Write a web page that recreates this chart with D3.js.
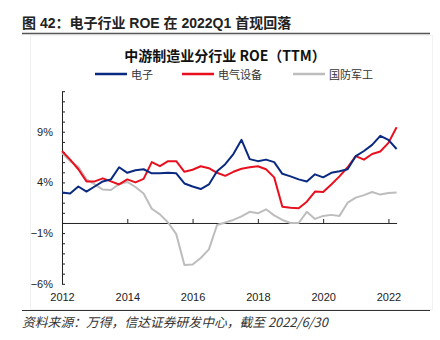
<!DOCTYPE html>
<html>
<head>
<meta charset="utf-8">
<script src="https://cdn.jsdelivr.net/npm/d3@7"></script>
<style>
    body { margin: 0; background: #fff; }
    svg { display: block; font-family: "Liberation Sans", "Noto Sans CJK SC", sans-serif; }
</style>
</head>
<body>
<svg width="440" height="340"></svg>
<script>
// 분기 카테고리 (2012Q1 ~ 2022Q2)
const quarters = [
    "2012Q1", "2012Q2", "2012Q3", "2012Q4", "2013Q1", "2013Q2", "2013Q3", "2013Q4",
    "2014Q1", "2014Q2", "2014Q3", "2014Q4", "2015Q1", "2015Q2", "2015Q3", "2015Q4",
    "2016Q1", "2016Q2", "2016Q3", "2016Q4", "2017Q1", "2017Q2", "2017Q3", "2017Q4",
    "2018Q1", "2018Q2", "2018Q3", "2018Q4", "2019Q1", "2019Q2", "2019Q3", "2019Q4",
    "2020Q1", "2020Q2", "2020Q3", "2020Q4", "2021Q1", "2021Q2", "2021Q3", "2021Q4",
    "2022Q1", "2022Q2"
];

// 시리즈 값 (%)
const electronics = [
    3.0, 2.9, 3.6, 3.1, 3.6, 4.1, 4.3, 5.5, 4.95, 5.2, 5.3, 4.9, 4.9, 4.95, 4.9, 3.9,
    3.6, 3.35, 3.8, 5.1, 5.8, 6.8, 8.2, 6.3, 6.1, 6.25, 6.0, 4.85, 4.6, 4.3, 4.1, 4.8,
    4.5, 4.95, 5.1, 5.3, 6.6, 7.1, 7.7, 8.6, 8.2, 7.3
];
const electrical = [
    7.1, 6.25, 5.3, 4.1, 4.1, 4.4, 4.1, 3.8, 4.3, 4.0, 4.35, 6.0, 5.6, 6.1, 6.1, 5.05,
    5.25, 5.6, 5.4, 4.95, 4.65, 5.05, 5.35, 5.5, 5.6, 5.3, 4.5, 1.6, 1.5, 1.45, 2.1, 3.1,
    3.05, 3.8, 4.6, 5.5, 6.6, 6.25, 6.8, 7.05, 7.9, 9.45
];
const defense = [
    6.9, 6.1, 5.55, 4.3, 3.8, 3.3, 3.25, 3.85, 4.05, 3.55, 2.9, 1.4, 0.85, 0.05, -1.1, -4.15,
    -4.1, -3.45, -2.6, -0.2, 0.05, 0.3, 0.65, 1.1, 0.95, 1.35, 0.75, 0.3, 0.0, 0.0, 1.1, 0.4,
    0.7, 0.8, 0.7, 2.0, 2.5, 2.75, 3.05, 2.8, 2.95, 3.0
];

const seriesNames = ["电子", "电气设备", "国防军工"];
const seriesColors = ["#0a2a82", "#e8101e", "#bdbdbd"];

// 축 눈금
const yTicks = d3.range(-6, 14);
const yTickLabels = [-6, -1, 4, 9];
const xTickQuarters = ["2012Q1", "2014Q1", "2016Q1", "2018Q1", "2020Q1", "2022Q1"];

const svg = d3.select("svg");

// 배경 프레임 (아주 옅게)
svg.append("rect")
    .attr("x", 30.5).attr("y", 35.5)
    .attr("width", 402).attr("height", 274)
    .attr("fill", "none")
    .attr("stroke", "#f2f2f2");

// 1. 제목
svg.append("text")
    .attr("x", 22).attr("y", 28)
    .attr("font-family", "'Liberation Sans', 'Noto Sans CJK SC'")
    .attr("font-size", 14).attr("font-weight", "bold")
    .attr("fill", "#222")
    .text("图 42：电子行业 ROE 在 2022Q1 首现回落");

svg.append("line")
    .attr("x1", 22).attr("x2", 430)
    .attr("y1", 33.5).attr("y2", 33.5)
    .attr("stroke", "#555").attr("stroke-width", 1.5);

// 2. 차트 제목
svg.append("text")
    .attr("x", 225).attr("y", 61)
    .attr("text-anchor", "middle")
    .attr("font-family", "'Noto Sans CJK SC'")
    .attr("font-size", 14).attr("font-weight", "bold")
    .attr("fill", "#111")
    .text("中游制造业分行业 ROE（TTM）");

// 3. 범례
const legendX = [95, 182, 293];
const legend = svg.append("g");
seriesNames.forEach((name, i) => {
    legend.append("line")
        .attr("x1", legendX[i]).attr("x2", legendX[i] + 32)
        .attr("y1", 74).attr("y2", 74)
        .attr("stroke", seriesColors[i]).attr("stroke-width", 2.5);
    legend.append("text")
        .attr("x", legendX[i] + 36).attr("y", 78.5)
        .attr("font-family", "'Noto Sans CJK SC'")
        .attr("font-size", 11)
        .attr("fill", "#333")
        .text(name);
});

// 4. 척도
const xScale = d3.scalePoint()
    .domain(quarters)
    .range([62, 396.6]);

const yScale = d3.scaleLinear()
    .domain([-6, 13])
    .range([283.8, 91.2]);

// 5. y축 (눈금은 안쪽으로)
const yAxisG = svg.append("g")
    .attr("transform", "translate(62,0)")
    .call(
        d3.axisLeft(yScale)
            .tickValues(yTicks)
            .tickSizeInner(-3)
            .tickSizeOuter(0)
            .tickPadding(9)
            .tickFormat(d => yTickLabels.includes(d) ? d3.format("d")(d) + "%" : "")
    );
yAxisG.selectAll("text").attr("font-size", 11).attr("fill", "#222");
yAxisG.selectAll("path, line").attr("stroke", "#222");

// 6. x축 (0% 위치, 눈금은 위로)
const xAxisG = svg.append("g")
    .attr("transform", "translate(0," + yScale(0) + ")")
    .call(
        d3.axisBottom(xScale)
            .tickValues(xTickQuarters)
            .tickSizeInner(-4)
            .tickSizeOuter(0)
            .tickFormat("")
    );
xAxisG.selectAll("path, line").attr("stroke", "#222");

// 7. x축 연도 라벨 (차트 하단)
const xLabelG = svg.append("g")
    .attr("transform", "translate(0," + yScale(-6) + ")")
    .call(
        d3.axisBottom(xScale)
            .tickValues(xTickQuarters)
            .tickSize(0)
            .tickPadding(9)
            .tickFormat(d => d.slice(0, 4))
    );
xLabelG.select(".domain").remove();
xLabelG.selectAll("text").attr("font-size", 11).attr("fill", "#222");

// 8. 라인 그리기
const line = d3.line()
    .x((d, i) => xScale(quarters[i]))
    .y(d => yScale(d));

[defense, electrical, electronics].forEach((values, k) => {
    const idx = 2 - k;
    svg.append("path")
        .datum(values)
        .attr("fill", "none")
        .attr("stroke", seriesColors[idx])
        .attr("stroke-width", 2)
        .attr("stroke-linejoin", "round")
        .attr("d", line);
});

// 9. 하단 구분선과 출처
svg.append("line")
    .attr("x1", 22).attr("x2", 430)
    .attr("y1", 310.5).attr("y2", 310.5)
    .attr("stroke", "#333").attr("stroke-width", 1);

svg.append("text")
    .attr("x", 22).attr("y", 327)
    .attr("font-family", "'Noto Sans CJK SC'")
    .attr("font-size", 12.8)
    .attr("font-style", "italic")
    .attr("fill", "#333")
    .text("资料来源：万得，信达证券研发中心，截至 2022/6/30");
</script>
</body>
</html>
